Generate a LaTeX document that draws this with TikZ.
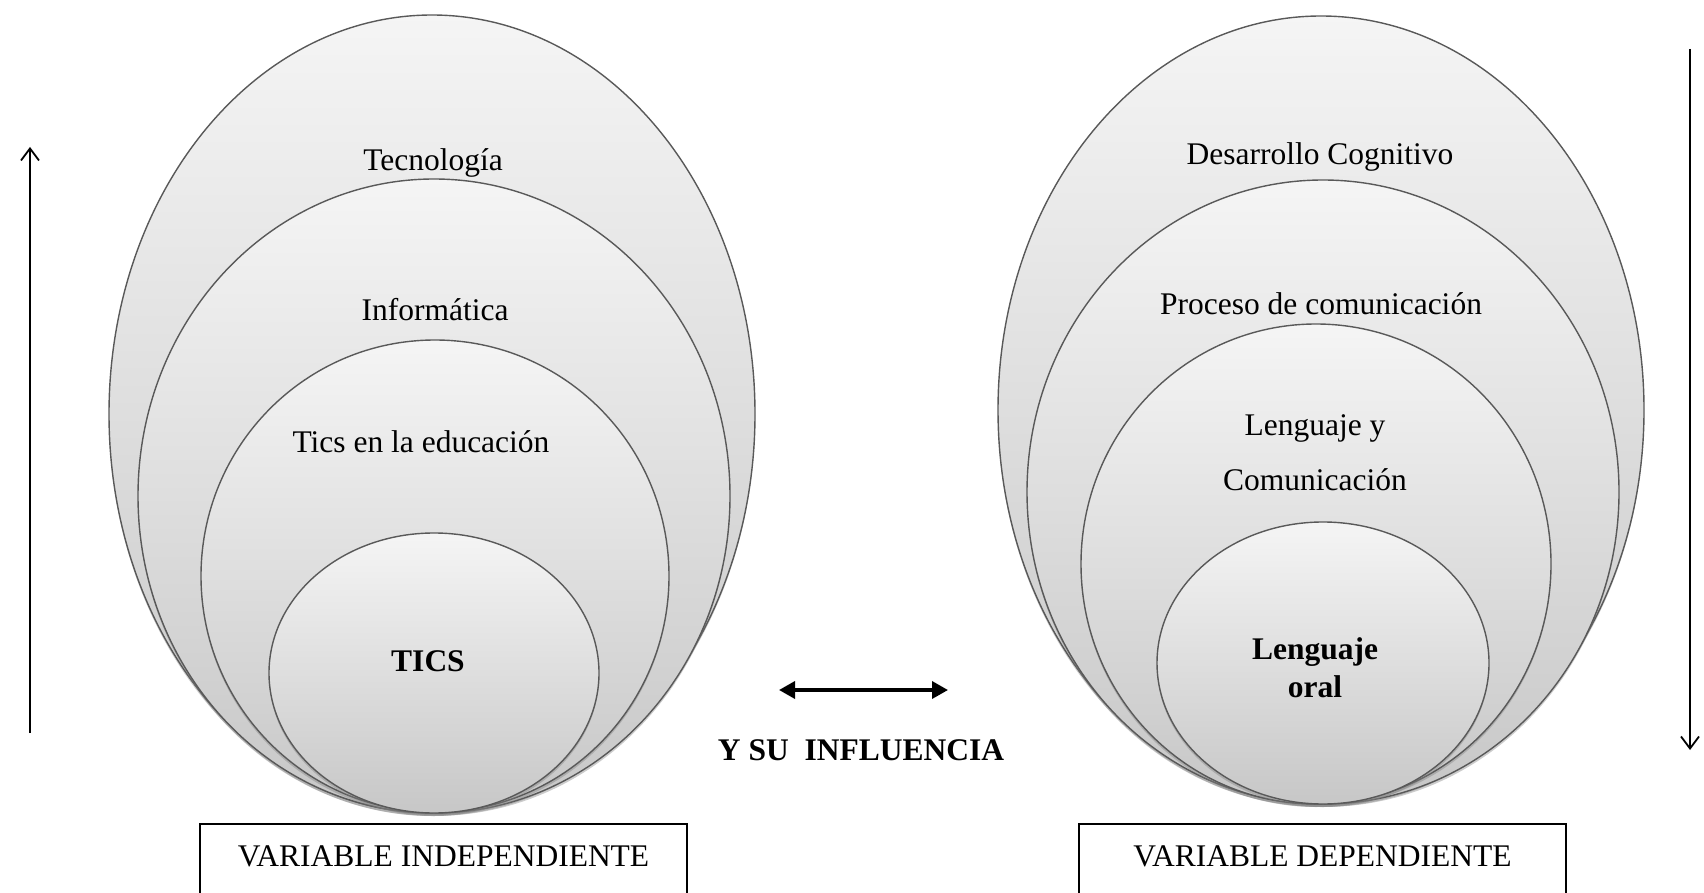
\documentclass[tikz,border=0pt]{standalone}
\usepackage{fontspec}
\setmainfont{Liberation Serif}
\usetikzlibrary{shapes.geometric}
\usetikzlibrary{positioning}
\usetikzlibrary{arrows.meta}
\usetikzlibrary{shadows}
\tikzset{
    x=1pt, y=-1pt, % one unit per pixel, y runs downwards
    every node/.style={font=\fontsize{31.5}{38}\selectfont},
    level/.style={ % Nested shaded ellipses
        ellipse, inner sep=0pt,
        draw=gray!70!black, line width=1.4pt,
        top color=gray!8, bottom color=gray!44,
        drop shadow={shadow xshift=0pt, shadow yshift=-3pt, opacity=.4}
    },
    varbox/.style={ % Boxes with the variable names
        draw, line width=1.2pt, text depth=8pt,
        minimum width=487pt, minimum height=72pt
    },
    side/.style={ % Thin vertical arrows at both sides
        draw, line width=1.8pt,
        -{Straight Barb[length=12pt,width=18pt]}
    }
}

\begin{document}
\begin{tikzpicture}
    \useasboundingbox (0,0) rectangle (1704,893);

    % independent variable
    \node[level, minimum width=646pt, minimum height=798pt] (tecno) at (432,414) {};
    \node[level, minimum width=592pt, minimum height=634pt] (infor) at (434,496) {};
    \node[level, minimum width=468pt, minimum height=472pt] (ticedu) at (435,576) {};
    \node[level, minimum width=330pt, minimum height=280pt] (tics) at (434,673) {};

    \node (tecnotxt) at (433,163) {Tecnología};
    \node (infortxt) at (435,310) {Informática};
    \node (ticedutxt) at (421,442) {Tics en la educación};
    \node[font=\fontsize{31.5}{38}\selectfont\bfseries] (ticstxt) at (428,661) {TICS};

    % dependent variable
    \node[level, minimum width=646pt, minimum height=788pt] (cogni) at (1321,410) {};
    \node[level, minimum width=592pt, minimum height=624pt] (proce) at (1323,492) {};
    \node[level, minimum width=470pt, minimum height=480pt] (lengcom) at (1316,564) {};
    \node[level, minimum width=332pt, minimum height=282pt] (oral) at (1323,663) {};

    \node (cognitxt) at (1320,157) {Desarrollo Cognitivo};
    \node (procetxt) at (1321,304) {Proceso de comunicación};
    \node[align=center, font=\fontsize{31.5}{55}\selectfont] (lengcomtxt) at (1315,453) {Lenguaje y\\Comunicación};
    \node[align=center, font=\fontsize{31.5}{38}\selectfont\bfseries] (oraltxt) at (1315,668) {Lenguaje\\oral};

    % boxes
    \node[varbox] (indep) at (443.5,860) {VARIABLE INDEPENDIENTE};
    \node[varbox] (dep) at (1322.5,860) {VARIABLE DEPENDIENTE};

    % arrows
    \coordinate (upbot) at (30,733);
    \coordinate (uptop) at (30,147);
    \coordinate (downtop) at (1690,49);
    \coordinate (downbot) at (1690,750);
    \draw[side] (upbot) -- (uptop);
    \draw[side] (downtop) -- (downbot);

    \coordinate (inflL) at (779,690);
    \coordinate (inflR) at (948,690);
    \draw[line width=3.5pt, {Stealth[length=16pt,width=17pt,inset=0pt]}-{Stealth[length=16pt,width=17pt,inset=0pt]}] (inflL) -- (inflR);
    \node[font=\fontsize{31.5}{38}\selectfont\bfseries] (influ) at (861,750) {Y SU\ \ INFLUENCIA};
\end{tikzpicture}
\end{document}
